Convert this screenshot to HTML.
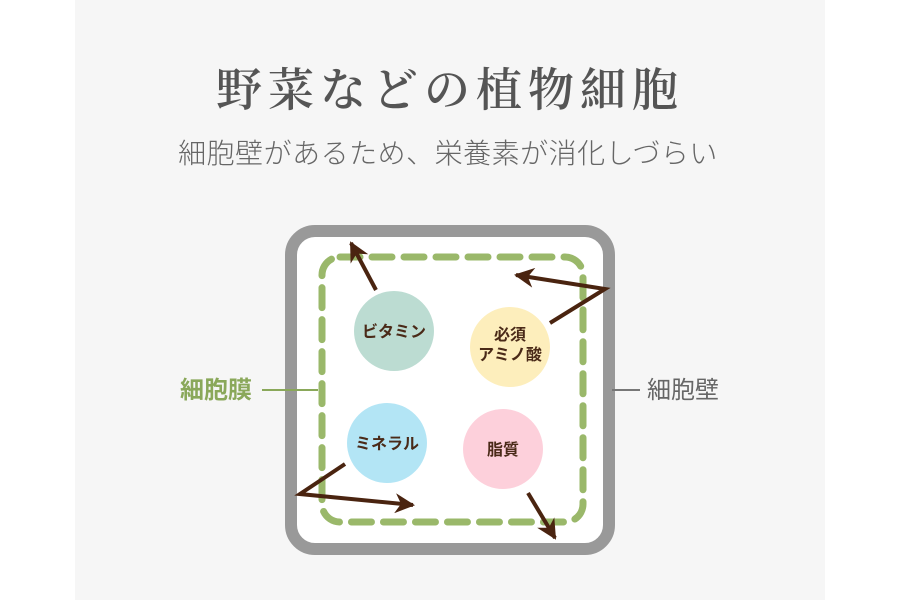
<!DOCTYPE html>
<html><head><meta charset="utf-8"><style>
html,body{margin:0;padding:0;width:900px;height:600px;background:#fff;overflow:hidden}
.panel{position:absolute;left:75px;top:0;width:750px;height:600px;background:#f6f6f6}
</style></head><body>
<div class="panel"></div>
<svg width="900" height="600" style="position:absolute;left:0;top:0">
<defs>
<marker id="a" viewBox="0 0 10 10" refX="9" refY="5" markerWidth="24" markerHeight="20" markerUnits="userSpaceOnUse" orient="auto"><path d="M0,0 L10,5 L0,10 L3,5 Z" fill="#4a2410"/></marker></defs>
<text x="450" y="106" text-anchor="middle" font-family="'Noto Serif CJK SC',serif" font-size="46" font-weight="600" fill="#555" letter-spacing="6">野菜などの植物細胞</text>
<text x="448" y="163" text-anchor="middle" font-family="'Liberation Sans','Noto Sans CJK JP',sans-serif" font-size="28" fill="#666" font-weight="300" letter-spacing="0.5">細胞壁があるため、栄養素が消化しづらい</text>
<rect x="291" y="231" width="318" height="318" rx="24" fill="#fff" stroke="#999" stroke-width="12"/>
<rect x="322" y="257" width="261" height="265" rx="18" fill="none" stroke="#9ab86a" stroke-width="7" stroke-dasharray="20 12" stroke-linecap="round"/>
<circle cx="394" cy="331" r="40" fill="#bcdcd2"/>
<circle cx="510" cy="347" r="40" fill="#fdeebc"/>
<circle cx="387" cy="443" r="40" fill="#b3e5f5"/>
<circle cx="503" cy="449" r="40" fill="#fdd0db"/>
<g font-family="'Liberation Sans','Noto Sans CJK JP',sans-serif" font-size="16" font-weight="bold" fill="#4a2a18" text-anchor="middle">
<text x="394" y="337">ビタミン</text>
<text x="510" y="340">必須</text>
<text x="510" y="360">アミノ酸</text>
<text x="387" y="449">ミネラル</text>
<text x="503" y="455">脂質</text>
</g>
<g stroke="#4a2410" stroke-width="4" fill="none">
<line x1="376" y1="290" x2="351" y2="243" marker-end="url(#a)"/>
<polyline points="550,323 605,289 516,275" marker-end="url(#a)"/>
<polyline points="345,464 300,494 413,505" marker-end="url(#a)"/>
<line x1="528" y1="493" x2="555" y2="538" marker-end="url(#a)"/>
</g>
<line x1="262" y1="390" x2="318" y2="390" stroke="#8aa85a" stroke-width="2"/>
<line x1="612" y1="390" x2="640" y2="390" stroke="#777" stroke-width="2"/>
<text x="180" y="398" font-family="'Liberation Sans','Noto Sans CJK JP',sans-serif" font-size="24" font-weight="bold" fill="#8aa85a">細胞膜</text>
<text x="647" y="398" font-family="'Liberation Sans','Noto Sans CJK JP',sans-serif" font-size="24" fill="#666">細胞壁</text>
</svg>
</body></html>
